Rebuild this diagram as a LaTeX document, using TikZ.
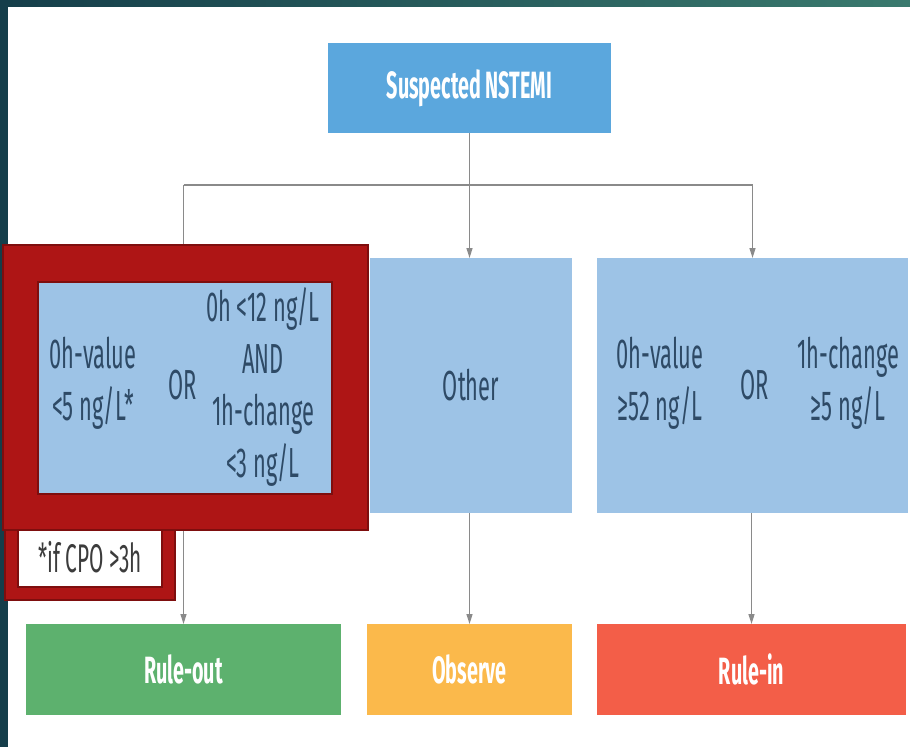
\documentclass[tikz,border=0pt]{standalone}
\usepackage{fontspec}
\setmainfont{Fira Sans}[FakeStretch=0.52]
\usetikzlibrary{arrows.meta}
\definecolor{topblue}{HTML}{5BA7DD}
\definecolor{lightblue}{HTML}{9DC3E6}
\definecolor{textdark}{HTML}{2E4A66}
\definecolor{okgreen}{HTML}{5DB16E}
\definecolor{obsorange}{HTML}{FBB94B}
\definecolor{inred}{HTML}{F35E48}
\definecolor{hlred}{HTML}{AE1515}
\definecolor{hldark}{HTML}{7E0E0E}
\definecolor{grayline}{HTML}{8A8A8A}
\definecolor{stripA}{HTML}{153E4A}
\definecolor{stripB}{HTML}{3A7A6E}
\definecolor{footgray}{HTML}{3C3C3C}
\begin{document}
\begin{tikzpicture}[x=1pt,y=-1pt,
  every node/.style={inner sep=0pt, outer sep=0pt},
  solidbox/.style={rectangle, text=white, font=\fontsize{38}{44}\selectfont\bfseries},
  critbox/.style={rectangle, fill=lightblue},
  crittext/.style={text=textdark, align=center, font=\fontsize{42}{52}\selectfont},
  conn/.style={draw=grayline, line width=1.5pt},
  arr/.style={conn, -{Triangle[width=6pt,length=10pt]}},
  hlframe/.style={rectangle, fill=hlred, draw=hldark, line width=2pt},
]
\useasboundingbox (0,0) rectangle (910,747);
\fill[white] (0,0) rectangle (910,747);
% frame strips
\shade[left color=stripA, right color=stripB] (0,0) rectangle (910,6);
\fill[stripA] (0,0) rectangle (8,747);

% top box
\node[solidbox, fill=topblue, minimum width=283pt, minimum height=90pt] (top) at (469.5,88) {Suspected NSTEMI};

% criteria boxes
\node[critbox, minimum width=323pt, minimum height=255pt] (lbox) at (183.5,385.5) {};
\node[critbox, minimum width=202pt, minimum height=255pt] (mbox) at (471,385.5) {};
\node[critbox, minimum width=311pt, minimum height=255pt] (rbox) at (752.5,385.5) {};
\node[crittext] (other) at (mbox.center) {Other};
\node[crittext] (r1) at (660,383) {0h-value\\≥52 ng/L};
\node[crittext] (ror) at (755,385) {OR};
\node[crittext] (r2) at (848,383) {1h-change\\≥5 ng/L};

% outcome boxes
\node[solidbox, fill=okgreen, minimum width=315pt, minimum height=91pt] (ruleout) at (183.5,669.5) {Rule-out};
\node[solidbox, fill=obsorange, minimum width=205pt, minimum height=91pt] (observe) at (469.5,669.5) {Observe};
\node[solidbox, fill=inred, minimum width=309pt, minimum height=91pt] (rulein) at (751.5,669.5) {Rule-in};

% connectors
\coordinate (hline) at (0,185);
\draw[arr] (top.south) -- (top.south |- mbox.north);
\draw[conn] (lbox.north |- hline) -- (rbox.north |- hline);
\draw[arr] (lbox.north |- hline) -- (lbox.north);
\draw[arr] (rbox.north |- hline) -- (rbox.north);
\draw[arr] (lbox.south) -- (ruleout.north);
\draw[arr] (observe.north |- mbox.south) -- (observe.north);
\draw[arr] (rulein.north |- rbox.south) -- (rulein.north);

% highlight of the rule-out criteria
\node[hlframe, minimum width=170pt, minimum height=72pt] (footframe) at (90,564) {};
\node[rectangle, fill=white, draw=hldark, line width=1.5pt, minimum width=144pt, minimum height=59pt] (footbox) at (90,557.5) {};
\node[text=footgray, font=\fontsize{40}{48}\selectfont] (foot) at (footbox.center) {*if CPO >3h};
\node[hlframe, minimum width=365pt, minimum height=285pt] (hlframe1) at (185.5,387.5) {};
\node[rectangle, fill=lightblue, draw=hldark, line width=2pt, minimum width=294pt, minimum height=212pt] (hlin) at (185,388) {};
\node[crittext] (l1) at (93,383) {0h-value\\<5 ng/L*};
\node[crittext] (lor) at (183,385) {OR};
\node[crittext] (l2) at (263,387) {0h <12 ng/L\\AND\\1h-change\\<3 ng/L};
\end{tikzpicture}
\end{document}
